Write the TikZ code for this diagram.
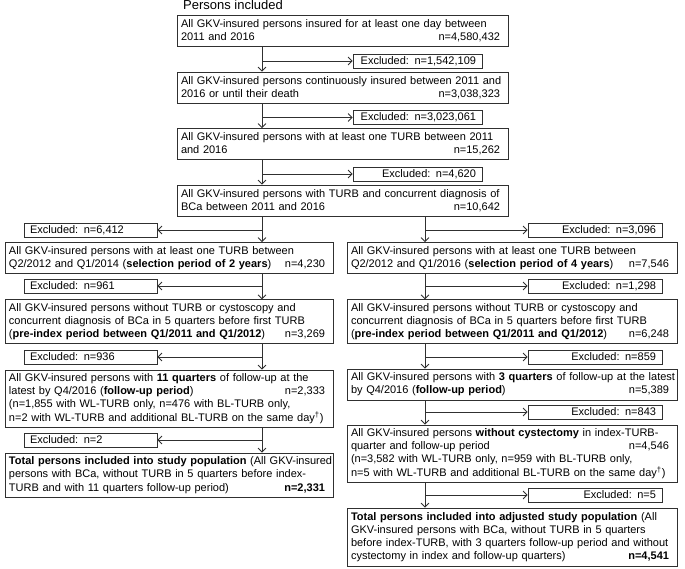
\documentclass[tikz,border=0pt]{standalone}
\usepackage{fontspec}
\setmainfont{Liberation Sans}
\usetikzlibrary{arrows.meta}
\definecolor{lc}{HTML}{303030}
\newcommand{\fs}{\fontsize{11}{13.2}\selectfont}
\newcommand{\Ln}[1]{\leavevmode\hbox to\linewidth{#1\hfil}}
\newcommand{\nv}[1]{\hfill #1\hspace*{4pt}}
\begin{document}
\begin{tikzpicture}[x=1pt,y=-1pt,
  box/.style={draw=lc, line width=0.8pt, inner xsep=4pt, inner ysep=3pt, align=left, font=\fs},
  tbox/.style={box, text width=323pt},
  lbox/.style={box, text width=320pt},
  rbox/.style={box, text width=322pt},
  excl/.style={draw=lc, line width=0.8pt, inner xsep=6pt, inner ysep=1pt, minimum height=14pt, font=\fs},
  tex/.style={excl, text width=117pt, align=right},
  lex/.style={excl, text width=121pt, align=left},
  rex/.style={excl, text width=122pt, align=right},
  arr/.style={draw=lc, line width=0.8pt, -{Straight Barb[length=4pt,width=8pt]}}
]
\useasboundingbox (0,0) rectangle (685,568);
\coordinate (tx) at (262,0);
\coordinate (rx) at (425,0);

\node[anchor=base west, font=\fontsize{13}{15}\selectfont, inner sep=0] (title) at (183,9.5) {Persons included};

\node[tbox, minimum height=31pt] (b1) at (342.5,31) {\Ln{All GKV-insured persons insured for at least one day between}\\\Ln{2011 and 2016\nv{n=4,580,432}}};
\node[tbox, minimum height=31pt] (b2) at (342.5,87.5) {\Ln{All GKV-insured persons continuously insured between 2011 and}\\\Ln{2016 or until their death\nv{n=3,038,323}}};
\node[tbox, minimum height=31pt] (b3) at (342.5,144) {\Ln{All GKV-insured persons with at least one TURB between 2011}\\\Ln{and 2016\nv{n=15,262}}};
\node[tbox, minimum height=31pt] (b4) at (342.5,200.5) {\Ln{All GKV-insured persons with TURB and concurrent diagnosis of}\\\Ln{BCa between 2011 and 2016\nv{n=10,642}}};

\node[tex] (e1) at (417.5,61) {\mbox{Excluded: n=1,542,109}};
\node[tex] (e2) at (417.5,117.5) {\mbox{Excluded: n=3,023,061}};
\node[tex] (e3) at (417.5,174) {\mbox{Excluded: n=4,620}};

\node[lex] (le1) at (90.5,230) {\mbox{Excluded: n=6,412}};
\node[rex] (re1) at (595,230) {\mbox{Excluded: n=3,096}};

\node[lbox, minimum height=31pt] (l1) at (169,258) {\Ln{All GKV-insured persons with at least one TURB between}\\\Ln{Q2/2012 and Q1/2014 (\textbf{selection period of 2 years})\nv{n=4,230}}};
\node[rbox, minimum height=31pt] (r1) at (512,258) {\Ln{All GKV-insured persons with at least one TURB between}\\\Ln{Q2/2012 and Q1/2016 (\textbf{selection period of 4 years})\nv{n=7,546}}};

\node[lex] (le2) at (90.5,286) {\mbox{Excluded: n=961}};
\node[rex] (re2) at (595,286) {\mbox{Excluded: n=1,298}};

\node[lbox, minimum height=43.5pt] (l2) at (169,321.5) {\Ln{All GKV-insured persons without TURB or cystoscopy and}\\\Ln{concurrent diagnosis of BCa in 5 quarters before first TURB}\\\Ln{(\textbf{pre-index period between Q1/2011 and Q1/2012})\nv{n=3,269}}};
\node[rbox, minimum height=43.5pt] (r2) at (512,321.5) {\Ln{All GKV-insured persons without TURB or cystoscopy and}\\\Ln{concurrent diagnosis of BCa in 5 quarters before first TURB}\\\Ln{(\textbf{pre-index period between Q1/2011 and Q1/2012})\nv{n=6,248}}};

\node[lex] (le3) at (90.5,357) {\mbox{Excluded: n=936}};
\node[rex] (re3) at (595,357) {\mbox{Excluded: n=859}};

\node[lbox, minimum height=57pt] (l3) at (169,398.5) {\Ln{All GKV-insured persons with \textbf{11 quarters} of follow-up at the}\\\Ln{latest by Q4/2016 (\textbf{follow-up period})\nv{n=2,333}}\\\Ln{(n=1,855 with WL-TURB only, n=476 with BL-TURB only,}\\\Ln{n=2 with WL-TURB and additional BL-TURB on the same day\textsuperscript{†})}};
\node[rbox, minimum height=31pt] (r3) at (512,384.5) {\Ln{All GKV-insured persons with \textbf{3 quarters} of follow-up at the latest}\\\Ln{by Q4/2016 (\textbf{follow-up period})\nv{n=5,389}}};

\node[lex] (le4) at (90.5,440) {\mbox{Excluded: n=2}};
\node[rex] (re4) at (595,412) {\mbox{Excluded: n=843}};

\node[lbox, minimum height=44pt] (l4) at (169,475) {\Ln{\textbf{Total persons included into study population} (All GKV-insured}\\\Ln{persons with BCa, without TURB in 5 quarters before index-}\\\Ln{TURB and with 11 quarters follow-up period)\nv{\textbf{n=2,331}}}};
\node[rbox, minimum height=57pt] (r4) at (512,453.5) {\Ln{All GKV-insured persons \textbf{without cystectomy} in index-TURB-}\\\Ln{quarter and follow-up period\nv{n=4,546}}\\\Ln{(n=3,582 with WL-TURB only, n=959 with BL-TURB only,}\\\Ln{n=5 with WL-TURB and additional BL-TURB on the same day\textsuperscript{†})}};

\node[rex] (re5) at (595,495) {\mbox{Excluded: n=5}};
\node[rbox, minimum height=58pt] (r5) at (512,537) {\Ln{\textbf{Total persons included into adjusted study population} (All}\\\Ln{GKV-insured persons with BCa, without TURB in 5 quarters}\\\Ln{before index-TURB, with 3 quarters follow-up period and without}\\\Ln{cystectomy in index and follow-up quarters)\nv{\textbf{n=4,541}}}};

% top trunk
\draw[arr] (b1.south -| tx) -- (b2.north -| tx);
\draw[arr] (e1.west -| tx) -- (e1.west);
\draw[arr] (b2.south -| tx) -- (b3.north -| tx);
\draw[arr] (e2.west -| tx) -- (e2.west);
\draw[arr] (b3.south -| tx) -- (b4.north -| tx);
\draw[arr] (e3.west -| tx) -- (e3.west);
% split
\draw[arr] (b4.south -| tx) -- (l1.north -| tx);
\draw[arr] (le1.east -| tx) -- (le1.east);
\draw[arr] (b4.south -| rx) -- (r1.north -| rx);
\draw[arr] (re1.west -| rx) -- (re1.west);
% left column
\draw[arr] (l1.south -| tx) -- (l2.north -| tx);
\draw[arr] (le2.east -| tx) -- (le2.east);
\draw[arr] (l2.south -| tx) -- (l3.north -| tx);
\draw[arr] (le3.east -| tx) -- (le3.east);
\draw[arr] (l3.south -| tx) -- (l4.north -| tx);
\draw[arr] (le4.east -| tx) -- (le4.east);
% right column
\draw[arr] (r1.south -| rx) -- (r2.north -| rx);
\draw[arr] (re2.west -| rx) -- (re2.west);
\draw[arr] (r2.south -| rx) -- (r3.north -| rx);
\draw[arr] (re3.west -| rx) -- (re3.west);
\draw[arr] (r3.south -| rx) -- (r4.north -| rx);
\draw[arr] (re4.west -| rx) -- (re4.west);
\draw[arr] (r4.south -| rx) -- (r5.north -| rx);
\draw[arr] (re5.west -| rx) -- (re5.west);
\end{tikzpicture}
\end{document}
